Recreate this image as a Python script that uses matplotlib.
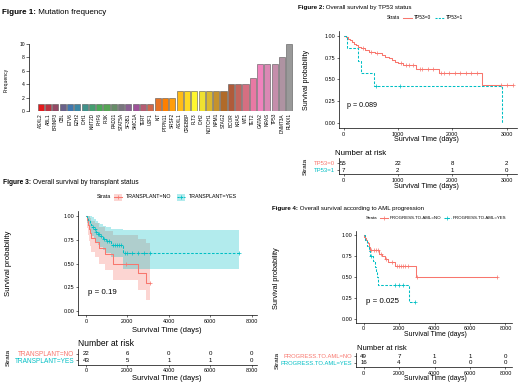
import numpy as np
import matplotlib
matplotlib.use("Agg")
import matplotlib.pyplot as plt
from matplotlib.lines import Line2D
from matplotlib.patches import Rectangle

plt.rcParams['font.family'] = ['Liberation Sans', 'DejaVu Sans']

# ---------------- data ----------------
genes = ["ASXL2", "ABL1", "BRINP3", "CBL", "ETV6", "EZH2", "IDH1", "KMT2D", "PHF6", "PI3K",
         "RAD21", "STAT5A", "SF3B1", "SMC1A", "TERT", "U2F1", "KIT", "PTPN11", "SRSF2", "ASXL1",
         "CREBBP", "FLT3", "IDH2", "NOTCH1", "NPM1", "STAG2", "BCOR", "KRAS", "WT1", "TET2",
         "GATA2", "NRAS", "TP53", "DNMT3A", "RUNX1"]
freq = [1, 1, 1, 1, 1, 1, 1, 1, 1, 1, 1, 1, 1, 1, 1, 1, 2, 2, 2, 3,
        3, 3, 3, 3, 3, 3, 4, 4, 4, 5, 7, 7, 7, 8, 10]

# Figure 2: TP53 status (step points: time, survival)
tp53_0_t = [0, 40, 80, 120, 160, 200, 230, 260, 330, 400, 460, 580, 700, 760, 830, 900, 950, 1000, 1100, 1340, 1750, 2540]
tp53_0_s = [1.0, 0.982, 0.964, 0.945, 0.927, 0.909, 0.891, 0.873, 0.855, 0.836, 0.818, 0.80, 0.78, 0.76, 0.74, 0.72, 0.70, 0.69, 0.665, 0.62, 0.578, 0.43]
tp53_0_end = 3120
tp53_0_cens = [350, 500, 620, 1050, 1150, 1200, 1280, 1400, 1450, 1550, 1650, 1800, 1850, 1950, 2050, 2150, 2250, 2350, 2450, 2900, 3000, 3120]
tp53_1_t = [0, 70, 270, 330, 560, 2920]
tp53_1_s = [1.0, 0.857, 0.714, 0.571, 0.429, 0.0]
tp53_1_end = 2920
tp53_1_cens = [600, 1040]
tp53_risk_times = [0, 1000, 2000, 3000]
tp53_risk_0 = [55, 22, 8, 2]
tp53_risk_1 = [7, 2, 1, 0]

# Figure 3: transplant status
tx_no_t = [0, 60, 100, 150, 200, 230, 430, 620, 900, 1320, 2530, 2900]
tx_no_s = [1.0, 0.955, 0.909, 0.864, 0.818, 0.773, 0.727, 0.66, 0.60, 0.50, 0.40, 0.30]
tx_no_lo = [1.0, 0.87, 0.80, 0.74, 0.68, 0.62, 0.57, 0.50, 0.43, 0.33, 0.22, 0.12]
tx_no_hi = [1.0, 1.0, 1.0, 1.0, 0.98, 0.95, 0.93, 0.88, 0.84, 0.80, 0.76, 0.72]
tx_no_end = 3100
tx_no_cens = [1950, 3100]
tx_yes_t = [0, 60, 120, 180, 240, 300, 380, 460, 560, 680, 800, 950, 1200, 1800]
tx_yes_s = [1.0, 0.977, 0.953, 0.93, 0.907, 0.884, 0.86, 0.835, 0.81, 0.785, 0.76, 0.735, 0.70, 0.61]
tx_yes_lo = [1.0, 0.93, 0.89, 0.86, 0.82, 0.79, 0.76, 0.73, 0.70, 0.67, 0.64, 0.61, 0.57, 0.44]
tx_yes_hi = [1.0, 1.0, 1.0, 1.0, 1.0, 0.99, 0.97, 0.95, 0.93, 0.92, 0.90, 0.88, 0.86, 0.85]
tx_yes_end = 7400
tx_yes_cens = [330, 420, 500, 600, 640, 720, 850, 1000, 1100, 1300, 1400, 1500, 1600, 1700,
               1900, 2000, 2200, 2500, 2800, 3100, 7400]
tx_risk_times = [0, 2000, 4000, 6000, 8000]
tx_risk_no = [22, 6, 0, 0, 0]
tx_risk_yes = [43, 5, 1, 1, 0]

# Figure 4: progression to AML
aml_no_t = [0, 50, 100, 150, 200, 250, 300, 340, 850, 1050, 1200, 1400, 1800, 2980]
aml_no_s = [1.0, 0.98, 0.96, 0.94, 0.92, 0.90, 0.86, 0.82, 0.78, 0.745, 0.71, 0.675, 0.63, 0.50]
aml_no_end = 7500
aml_no_cens = [420, 600, 700, 800, 1000, 1250, 1600, 1900, 2000, 2100, 2200, 2350, 2500, 3000, 7500]
aml_yes_t = [0, 100, 190, 300, 380, 560, 620, 680, 740, 790, 2550]
aml_yes_s = [1.0, 0.9375, 0.875, 0.8125, 0.75, 0.6875, 0.625, 0.5625, 0.50, 0.41, 0.205]
aml_yes_end = 2900
aml_yes_cens = [420, 1800, 2000, 2250, 2900]
aml_risk_times = [0, 2000, 4000, 6000, 8000]
aml_risk_no = [49, 7, 1, 1, 0]
aml_risk_yes = [16, 4, 0, 0, 0]

# ---------------- layout helpers ----------------
W, H = 520, 391
fig = plt.figure(figsize=(W / 100, H / 100), dpi=100)
renderer = fig.canvas.get_renderer()
RED = '#F8766D'
TEAL = '#00BFC4'


def box(l, t, r, b):
    return [l / W, 1 - b / H, (r - l) / W, (b - t) / H]


def ftext(x, y, s, **kw):
    kw.setdefault('va', 'center')
    return fig.text(x / W, 1 - y / H, s, **kw)


def text_w(s, size=10, weight='normal'):
    t = fig.text(0, 0, s, fontsize=size, fontweight=weight)
    w = t.get_window_extent(renderer).width
    t.remove()
    return w


def fit(s, target, weight='normal'):
    return 10 * target / text_w(s, 10, weight)


def fline(x0, x1, y, **kw):
    fig.add_artist(Line2D([x0 / W, x1 / W], [1 - y / H, 1 - y / H], transform=fig.transFigure, **kw))


def title(x0, x1, y, bold, rest):
    wb = text_w(bold, 10, 'bold')
    wr = text_w(' ' + rest, 10)
    size = 10 * (x1 - x0) / (wb + wr)
    ftext(x0, y, bold, fontsize=size, fontweight='bold', ha='left')
    ftext(x0 + wb * size / 10, y, ' ' + rest, fontsize=size, ha='left')


def legend_row(y, strata_x, items, size):
    # items: (key_x0, key_x1, key_drawer, label_x, label)
    ftext(strata_x, y, 'Strata', fontsize=size, ha='left')
    for kx0, kx1, key, lx, lab in items:
        key(kx0, kx1, y)
        ftext(lx, y, lab, fontsize=size, ha='left')


def key_line(color, dashed, box_fill=False, mark=False):
    def draw(a, b, y):
        if box_fill:
            fig.add_artist(Rectangle((a / W, 1 - (y + 3.5) / H), (b - a) / W, 7 / H,
                                     transform=fig.transFigure, facecolor=color, alpha=0.3, lw=0))
        fline(a, b, y, color=color, lw=0.75, ls=(0, (2, 1.2)) if dashed else '-')
        if mark:
            fig.add_artist(Line2D([(a + b) / 2 / W], [1 - y / H], transform=fig.transFigure,
                                  marker='+', ms=2.2, mew=0.5, color=color, ls='none'))
    return draw


def step_xy(t, s, end):
    return list(t) + [end], list(s) + [s[-1]]


def surv_at(t, s, x):
    i = np.searchsorted(t, x, side='right') - 1
    return s[i]


def style_km(ax, xlim, ylim, xticks):
    ax.set_xlim(*xlim)
    ax.set_ylim(*ylim)
    for sp in ['top', 'right']:
        ax.spines[sp].set_visible(False)
    for sp in ['left', 'bottom']:
        ax.spines[sp].set_linewidth(0.5)
    ax.set_xticks(xticks)
    ax.set_yticks([0, 0.25, 0.5, 0.75, 1.0])
    ax.set_yticklabels(['0.00', '0.25', '0.50', '0.75', '1.00'])
    ax.tick_params(labelsize=3.9, length=1.6, width=0.4, pad=1)
    ax.patch.set_alpha(0)


def draw_curve(ax, t, s, end, cens, color, ls):
    x, y = step_xy(t, s, end)
    if ls == '--':
        ax.step(x, y, where='post', color=color, lw=0.75, ls=(0, (2.5, 1.5)))
    else:
        ax.step(x, y, where='post', color=color, lw=0.75)
    cy = [surv_at(t, s, c) for c in cens]
    ax.plot(cens, cy, ls='none', marker='+', ms=2.2, mew=0.5, color=color)


def risk_table(rect, xlim, ylim, times, rows, labels, label_size):
    ax = fig.add_axes(rect)
    ax.set_xlim(*xlim)
    ax.set_ylim(*ylim)
    for sp in ['top', 'right']:
        ax.spines[sp].set_visible(False)
    for sp in ['left', 'bottom']:
        ax.spines[sp].set_linewidth(0.5)
    ax.set_xticks(times)
    ax.set_yticks([2, 1])
    ax.set_yticklabels(labels)
    for tl, c in zip(ax.get_yticklabels(), [RED, TEAL]):
        tl.set_color(c)
        tl.set_fontsize(label_size)
    ax.tick_params(axis='x', labelsize=3.9, length=1.6, width=0.4, pad=1)
    ax.tick_params(axis='y', length=1.6, width=0.4, pad=1)
    for yv, vals in zip([2, 1], rows):
        for tt, v in zip(times, vals):
            ax.text(tt, yv, str(v), ha='center', va='center', fontsize=4.4)
    ax.patch.set_alpha(0)
    return ax


XLAB = 'Survival Time (days)'
YLAB = 'Survival probability'
NAR = 'Number at risk'

# ---------------- Figure 1: bar chart ----------------
title(2, 107, 12, 'Figure 1:', 'Mutation frequency')
n = len(genes)
set1 = ['#E41A1C', '#377EB8', '#4DAF4A', '#984EA3', '#FF7F00', '#FFFF33', '#A65628', '#F781BF', '#999999']
set1_rgb = np.array([matplotlib.colors.to_rgb(c) for c in set1])
pos = np.linspace(0, len(set1) - 1, n)
bar_colors = [tuple(np.interp(p, np.arange(len(set1)), set1_rgb[:, k]) for k in range(3)) for p in pos]

ax1 = fig.add_axes(box(29, 44, 293, 111))
ax1.bar(np.arange(n), freq, width=0.83, color=bar_colors, edgecolor='#555555', linewidth=0.4)
ax1.set_xlim(-1.6, 34.5)
ax1.set_ylim(0, 10)
for sp in ['top', 'right', 'bottom']:
    ax1.spines[sp].set_visible(False)
ax1.spines['left'].set_linewidth(0.5)
ax1.spines['left'].set_bounds(0, 10)
ax1.set_yticks([0, 2, 4, 6, 8, 10])
ax1.tick_params(axis='y', labelsize=3.6, length=2, width=0.4, pad=1)
ax1.set_xticks(np.arange(n))
ax1.set_xticklabels(genes, rotation=90, fontsize=3.4)
ax1.tick_params(axis='x', length=0, pad=1.5)
ax1.patch.set_alpha(0)
ftext(6, 80, 'Frequency', fontsize=3.6, rotation=90, ha='center')

# ---------------- Figure 2: TP53 ----------------
title(298, 412, 7, 'Figure 2:', 'Overall survival by TP53 status')
legend_row(17.5, 387, [(403, 412, key_line(RED, False), 414, 'TP53=0'),
                       (435, 444, key_line(TEAL, True), 446, 'TP53=1')], fit('TP53=1', 17))

xl2 = (-83, 3193)
ax2 = fig.add_axes(box(339, 31.3, 517, 128))
style_km(ax2, xl2, (-0.057, 1.05), [0, 1000, 2000, 3000])
draw_curve(ax2, tp53_0_t, tp53_0_s, tp53_0_end, tp53_0_cens, RED, '-')
draw_curve(ax2, tp53_1_t, tp53_1_s, tp53_1_end, tp53_1_cens, TEAL, '--')
ax2.text(70, 0.2, 'p = 0.089', fontsize=fit('p = 0.089', 30), ha='left', va='center')
ftext(306, 80, YLAB, fontsize=fit(YLAB, 60), rotation=90, ha='center')
ftext(426, 140, XLAB, fontsize=fit(XLAB, 65), ha='center')

ftext(335, 153.3, NAR, fontsize=fit(NAR, 51.7), ha='left')
risk_table(box(339, 158, 517, 174.3), xl2, (0.38, 2.77), tp53_risk_times,
           [tp53_risk_0, tp53_risk_1], ['TP53=0', 'TP53=1'], fit('TP53=0', 21))
ftext(305, 166, 'Strata', fontsize=4.6, rotation=90, ha='center')
ftext(426, 186.7, XLAB, fontsize=fit(XLAB, 65), ha='center')

# ---------------- Figure 3: transplant ----------------
title(3, 137, 182.7, 'Figure 3:', 'Overall survival by transplant status')
legend_row(197, 97, [(114, 122, key_line(RED, False, box_fill=True, mark=True), 126, 'TRANSPLANT=NO'),
                     (177, 185, key_line(TEAL, True, box_fill=True, mark=True), 189, 'TRANSPLANT=YES')],
           fit('TRANSPLANT=NO', 46))

xl3 = (-386, 8261)
ax3 = fig.add_axes(box(78, 211, 257, 315))
style_km(ax3, xl3, (-0.042, 1.053), [0, 2000, 4000, 6000, 8000])
for t, lo, hi, end, c in [(tx_no_t, tx_no_lo, tx_no_hi, tx_no_end, RED),
                          (tx_yes_t, tx_yes_lo, tx_yes_hi, tx_yes_end, TEAL)]:
    x, ylo = step_xy(t, lo, end)
    _, yhi = step_xy(t, hi, end)
    ax3.fill_between(x, ylo, yhi, step='post', color=c, alpha=0.3, lw=0)
draw_curve(ax3, tx_no_t, tx_no_s, tx_no_end, tx_no_cens, RED, '-')
draw_curve(ax3, tx_yes_t, tx_yes_s, tx_yes_end, tx_yes_cens, TEAL, '--')
ax3.text(110, 0.2, 'p = 0.19', fontsize=fit('p = 0.19', 28.3), ha='left', va='center')
ftext(9, 263, YLAB, fontsize=fit(YLAB, 65), rotation=90, ha='center')
ftext(167, 330, XLAB, fontsize=fit(XLAB, 69), ha='center')

ftext(78, 343, NAR, fontsize=fit(NAR, 55.7), ha='left')
risk_table(box(78, 349, 257, 364.5), xl3, (0.355, 2.69), tx_risk_times,
           [tx_risk_no, tx_risk_yes], ['TRANSPLANT=NO', 'TRANSPLANT=YES'], fit('TRANSPLANT=YES', 60))
ftext(8, 357, 'Strata', fontsize=4.6, rotation=90, ha='center')
ftext(167, 379, XLAB, fontsize=fit(XLAB, 69), ha='center')

# ---------------- Figure 4: AML progression ----------------
title(272, 426, 208, 'Figure 4:', 'Overall survival according to AML progression')
leg4_size = fit('PROGRESS.TO.AML=YES', 53)
lab1_end = 390 + text_w('PROGRESS.TO.AML=NO', leg4_size)
legend_row(217.7, 366, [(380, 388, key_line(RED, False, mark=True), 390, 'PROGRESS.TO.AML=NO'),
                        (lab1_end + 2, lab1_end + 9, key_line(TEAL, True, mark=True), lab1_end + 11,
                         'PROGRESS.TO.AML=YES')],
           leg4_size)

xl4 = (-424, 8367)
ax4 = fig.add_axes(box(356, 231, 512, 322.5))
style_km(ax4, xl4, (-0.038, 1.047), [0, 2000, 4000, 6000, 8000])
draw_curve(ax4, aml_no_t, aml_no_s, aml_no_end, aml_no_cens, RED, '-')
draw_curve(ax4, aml_yes_t, aml_yes_s, aml_yes_end, aml_yes_cens, TEAL, '--')
ax4.text(130, 0.21, 'p = 0.025', fontsize=fit('p = 0.025', 33), ha='left', va='center')
ftext(277, 278, YLAB, fontsize=fit(YLAB, 61.7), rotation=90, ha='center')
ftext(435, 334, XLAB, fontsize=fit(XLAB, 63), ha='center')

ftext(357, 348.3, NAR, fontsize=fit(NAR, 50), ha='left')
risk_table(box(356, 353, 512, 367.3), xl4, (0.28, 2.47), aml_risk_times,
           [aml_risk_no, aml_risk_yes], ['PROGRESS.TO.AML=NO', 'PROGRESS.TO.AML=YES'],
           fit('PROGRESS.TO.AML=YES', 72))
ftext(277, 360, 'Strata', fontsize=4.6, rotation=90, ha='center')
ftext(435, 378.7, XLAB, fontsize=fit(XLAB, 63), ha='center')

fig.savefig('out.png', dpi=100)
